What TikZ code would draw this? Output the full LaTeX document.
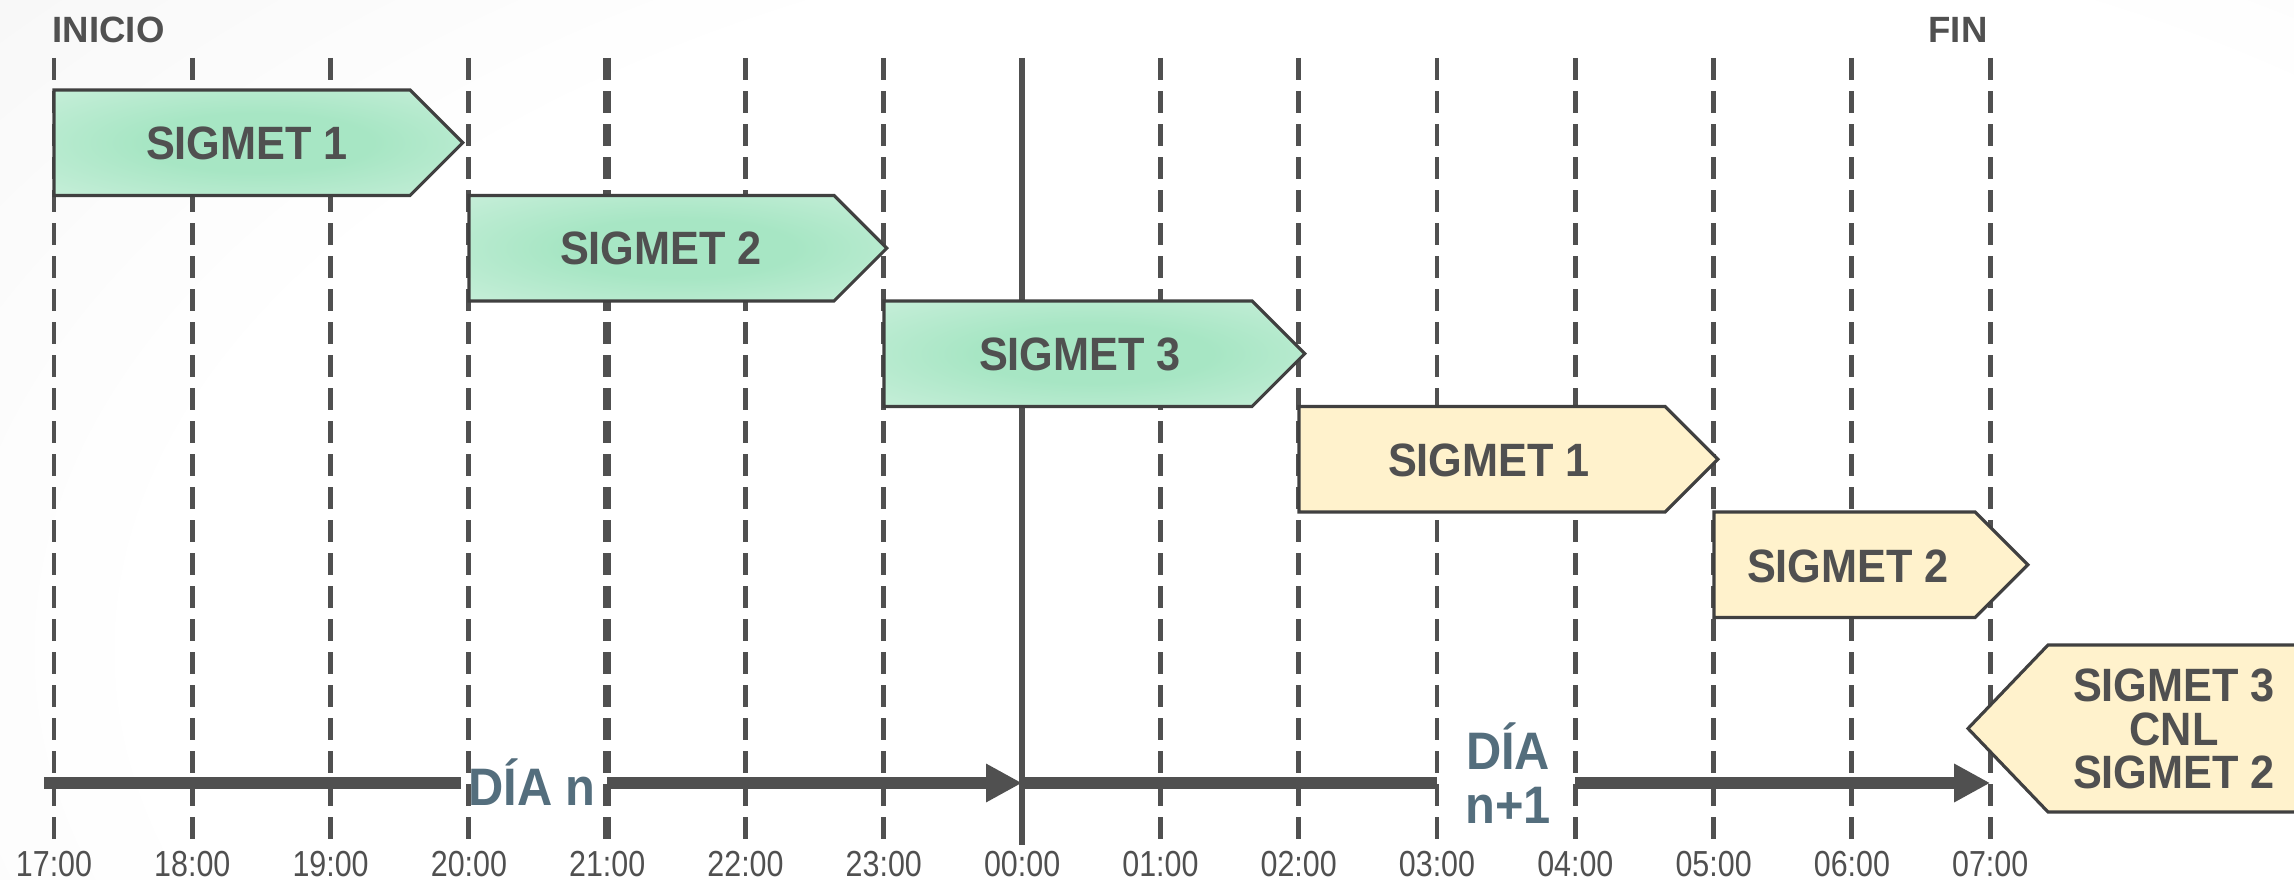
\documentclass[tikz,border=0pt]{standalone}
\usepackage{fontspec}
\setmainfont{Liberation Sans}
\newfontfamily\sigfont[FakeStretch=0.925]{Liberation Sans}
\newfontfamily\timefont[FakeStretch=0.84]{Liberation Sans}
\usetikzlibrary{arrows.meta}
\definecolor{ink}{HTML}{505050}
\definecolor{edgec}{HTML}{404040}
\definecolor{diac}{HTML}{546E7D}
\definecolor{mintC}{HTML}{A7E6C4}
\definecolor{mintE}{HTML}{E3F6EC}
\definecolor{cream}{HTML}{FFF2CC}
\definecolor{bgout}{HTML}{E4E4E4}
\pgfdeclareradialshading{mintshade}{\pgfpoint{0bp}{0bp}}{color(0bp)=(mintC); color(14bp)=(mintC); color(56bp)=(mintE); color(80bp)=(mintE)}
\pgfdeclareradialshading{bgshade}{\pgfpoint{0bp}{0bp}}{color(0bp)=(white); color(18bp)=(white); color(48bp)=(bgout); color(80bp)=(bgout)}
\tikzset{
  hourline/.style={draw=ink, line width=1.4pt, dash pattern=on 0.22cm off 0.11cm},
  greenbox/.style={draw=edgec, line width=0.9pt, shading=mintshade},
  creambox/.style={draw=edgec, line width=0.9pt, fill=cream},
  sigtext/.style={font=\sigfont\bfseries\fontsize{13.3}{12.4}\selectfont, text=ink, align=center, inner sep=0pt},
  timetext/.style={font=\timefont\fontsize{10.3}{12}\selectfont, text=ink, inner sep=0pt},
  endtext/.style={font=\bfseries\fontsize{10.4}{12}\selectfont, text=ink, inner sep=0pt},
  diatext/.style={font=\sigfont\bfseries\fontsize{15}{15.4}\selectfont, text=diac, align=center, inner sep=0pt},
  axis/.style={draw=ink, line width=3.4pt},
  axisarrow/.style={axis, -{Triangle[length=0.36cm,width=0.36cm]}}
}
\begin{document}
\begin{tikzpicture}[x=0.01cm, y=-0.01cm]
\useasboundingbox (0,0) rectangle (2294,880);
\clip (0,0) rectangle (2294,880);
% background
\path[shading=bgshade] (-350,-350) rectangle (3250,1650);
% hour lines
\foreach \i/\t in {0/17:00,1/18:00,2/19:00,3/20:00,4/21:00,5/22:00,6/23:00,7/00:00,8/01:00,9/02:00,10/03:00,11/04:00,12/05:00,13/06:00,14/07:00}{
  \pgfmathsetmacro{\xx}{54+138.3*\i}
  \coordinate (top\i) at (\xx,58);
  \coordinate (bot\i) at (\xx,845);
  \coordinate (ax\i) at (\xx,783);
  \node[timetext] (lab\i) at (\xx,864) {\t};
}
\foreach \i in {0,1,2,3,5,6,8,9,10,11,12,13,14}{
  \draw[hourline] (top\i) -- (bot\i);
}
\draw[hourline, line width=2.3pt] (top4) -- (bot4);
\draw[draw=ink, line width=1.8pt] (top7) -- (bot7);
% start / end labels
\node[endtext, anchor=west] (inicio) at (52,30) {INICIO};
\node[endtext] (fin) at (1958,30) {FIN};
% SIGMET boxes
\path[greenbox] (54,90) -- (410,90) -- (462.75,142.75) -- (410,195.5) -- (54,195.5) -- cycle;
\node[sigtext] (g1) at (247,143) {SIGMET 1};
\path[greenbox] (469,195.5) -- (834,195.5) -- (886.75,248.25) -- (834,301) -- (469,301) -- cycle;
\node[sigtext] (g2) at (661,248) {SIGMET 2};
\path[greenbox] (884,301) -- (1252,301) -- (1304.75,353.75) -- (1252,406.5) -- (884,406.5) -- cycle;
\node[sigtext] (g3) at (1080,354) {SIGMET 3};
\path[creambox] (1299,406.5) -- (1665,406.5) -- (1717.75,459.25) -- (1665,512) -- (1299,512) -- cycle;
\node[sigtext] (y1) at (1489,460) {SIGMET 1};
\path[creambox] (1714,512) -- (1975,512) -- (2027.75,564.75) -- (1975,617.5) -- (1714,617.5) -- cycle;
\node[sigtext] (y2) at (1848,566) {SIGMET 2};
\path[creambox] (2048,645) -- (2320,645) -- (2320,812) -- (2048,812) -- (1968,728.5) -- cycle;
\node[sigtext] (y3) at (2174,729) {SIGMET 3\\CNL\\SIGMET 2};
% day labels
\node[diatext] (dian) at (532,782) {DÍA n};
\node[diatext] (dian1) at (1508,773) {DÍA\\n+1};
% time axis
\coordinate (axstart) at (44,783);
\coordinate (ax1end) at (461,783);
\draw[axis] (axstart) -- (ax1end);
\draw[axisarrow] (ax4) -- (ax7);
\draw[axis] (ax7) -- (ax10);
\draw[axisarrow] (ax11) -- (ax14);
\end{tikzpicture}
\end{document}
